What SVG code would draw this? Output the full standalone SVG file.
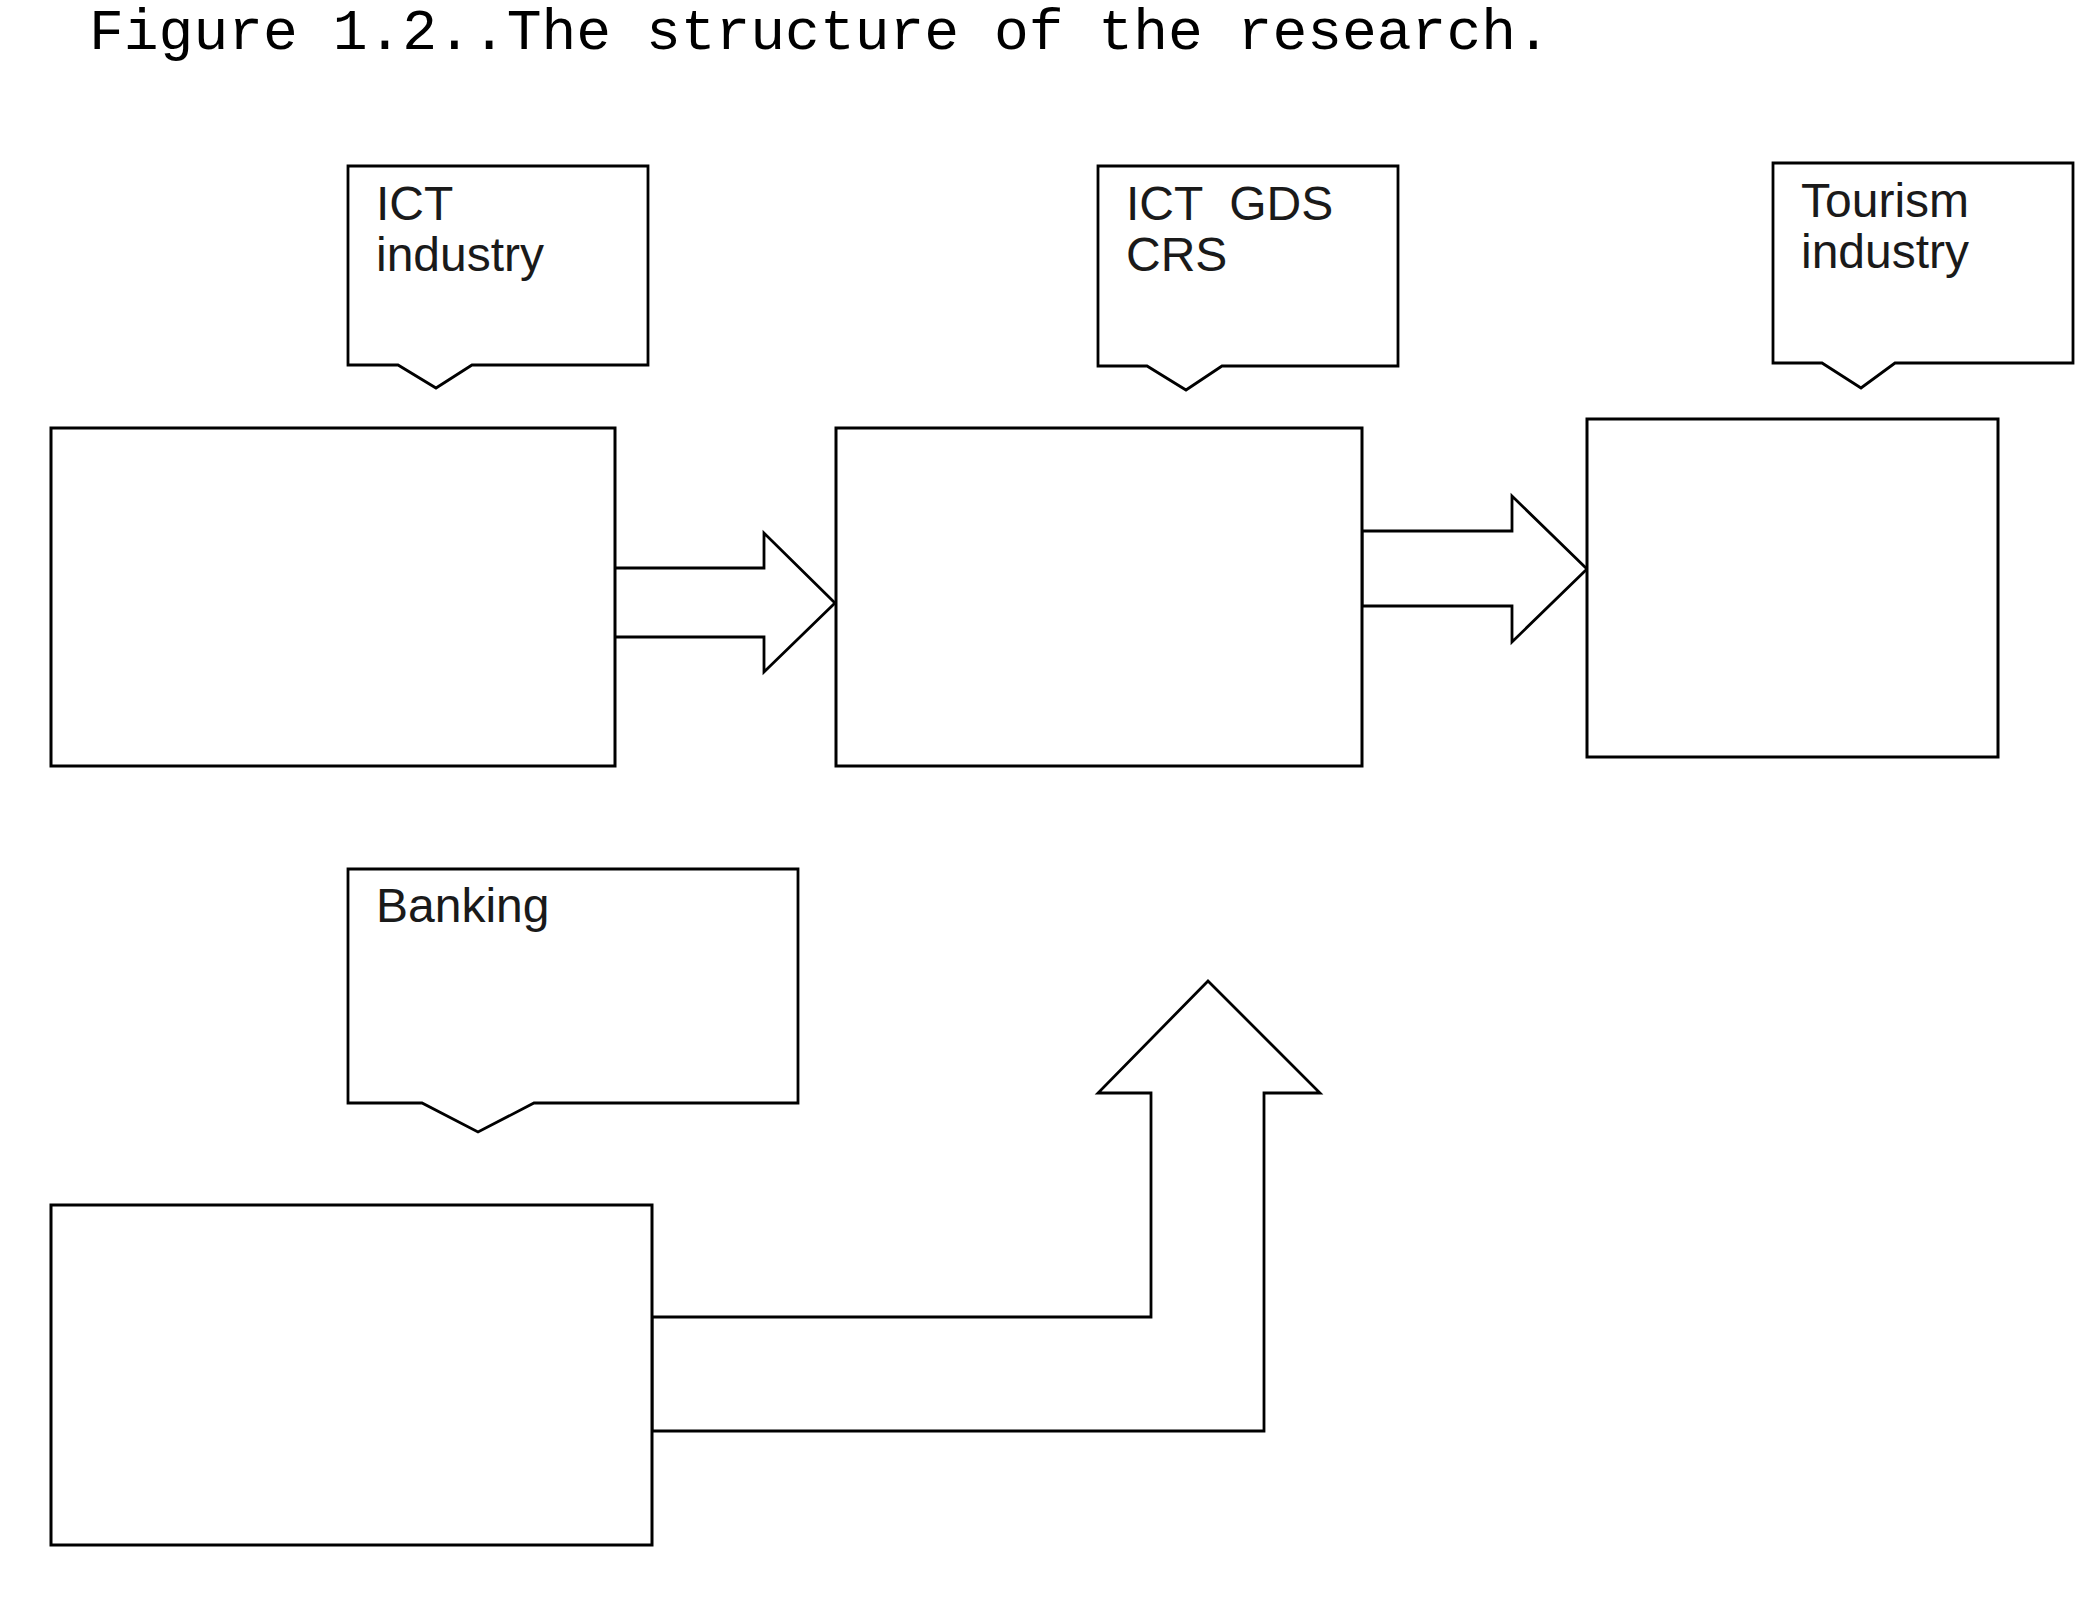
<svg xmlns="http://www.w3.org/2000/svg" width="2079" height="1614" viewBox="0 0 2079 1614">
<style>
.box{fill:#fff;stroke:#000;stroke-width:3}
.call{fill:#fff;stroke:#000;stroke-width:2.8;stroke-linejoin:miter}
.arr{fill:#fff;stroke:#000;stroke-width:2.8;stroke-linejoin:miter}
.lbl{font-family:"Liberation Sans",Arial,sans-serif;font-size:48px;fill:#1a1a1a}
.title{font-family:"Liberation Mono","Courier New",monospace;font-size:58px;fill:#000}
</style>
<rect width="2079" height="1614" fill="#fff"/>
<text class="title" x="89" y="49">Figure 1.2..The structure of the research.</text>
<g id="connectors">
<polygon class="arr" points="611,568 764,568 764,533 835,603 764,672 764,637 611,637"/>
<polygon class="arr" points="1362,531 1512,531 1512,496 1587,569 1512,642 1512,606 1362,606"/>
<polygon class="arr" points="652,1317 1151,1317 1151,1093 1098,1093 1208,981 1320,1093 1264,1093 1264,1431 652,1431"/>
</g>
<g id="box-ict">
<rect class="box" x="51" y="428" width="564" height="338"/>
</g>
<g id="box-gds">
<rect class="box" x="836" y="428" width="526" height="338"/>
</g>
<g id="box-tourism">
<rect class="box" x="1587" y="419" width="411" height="338"/>
</g>
<g id="box-banking">
<rect class="box" x="51" y="1205" width="601" height="340"/>
</g>
<g id="callout-ict">
<polygon class="call" points="348,166 648,166 648,365 472,365 436,388 398,365 348,365"/>
<text class="lbl" x="376" y="220">ICT</text>
<text class="lbl" x="376" y="271">industry</text>
</g>
<g id="callout-gds">
<polygon class="call" points="1098,166 1398,166 1398,366 1222,366 1186,390 1147,366 1098,366"/>
<text class="lbl" x="1126" y="220" xml:space="preserve">ICT  GDS</text>
<text class="lbl" x="1126" y="271">CRS</text>
</g>
<g id="callout-tourism">
<polygon class="call" points="1773,163 2073,163 2073,363 1895,363 1861,388 1822,363 1773,363"/>
<text class="lbl" x="1801" y="217">Tourism</text>
<text class="lbl" x="1801" y="268">industry</text>
</g>
<g id="callout-banking">
<polygon class="call" points="348,869 798,869 798,1103 534,1103 478,1132 422,1103 348,1103"/>
<text class="lbl" x="376" y="922">Banking</text>
</g>
</svg>
